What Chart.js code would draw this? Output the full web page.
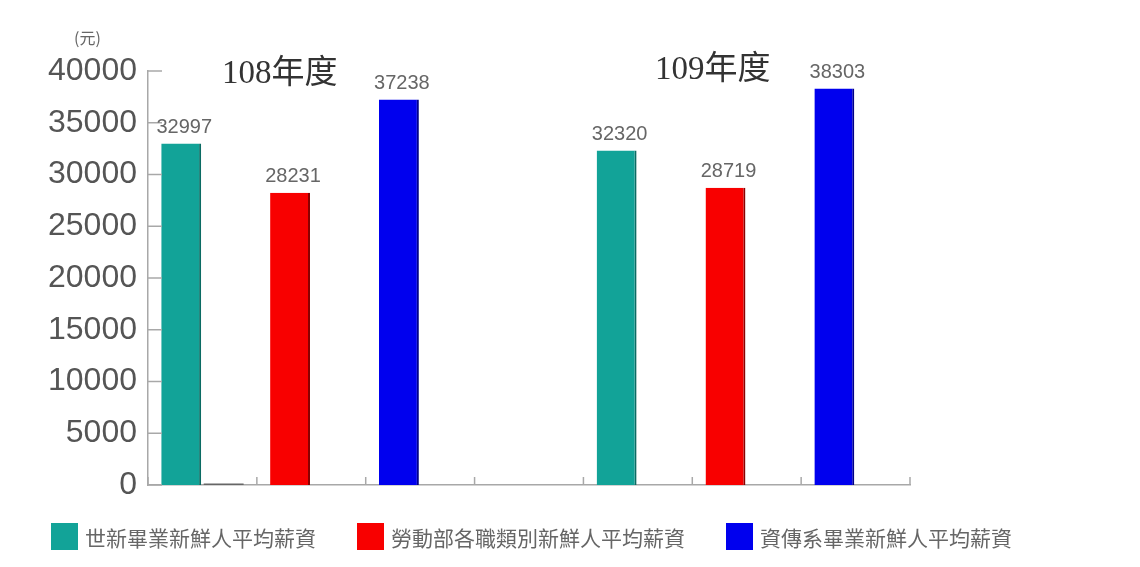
<!DOCTYPE html>
<html>
<head>
<meta charset="utf-8">
<script src="https://cdn.jsdelivr.net/npm/chart.js@4/dist/chart.umd.min.js"></script>
<style>
    body { margin: 0; background: #fff; }
    #wrap { position: relative; width: 1140px; height: 567px; }
    #legend {
        position: absolute; left: 51px; top: 523px;
        display: flex; gap: 41px;
        font-family: "Noto Sans CJK TC", sans-serif; font-size: 21px; color: #666;
    }
    .legend-item { display: flex; align-items: center; height: 27px; }
    .legend-box { width: 27px; height: 27px; margin-right: 7px; }
</style>
</head>
<body>
<div id="wrap">
    <canvas id="salaryChart" width="1140" height="567"></canvas>
    <div id="legend"></div>
</div>
<script>
const categories = ['108 世新', '108 勞動部', '108 資傳系', '', '109 世新', '109 勞動部', '109 資傳系'];
const shihHsinSalary = [32997, null, null, null, 32320, null, null];
const laborSalary = [null, 28231, null, null, null, 28719, null];
const commSalary = [null, null, 37238, null, null, null, 38303];
const baselineMark = [150, null, null, null, null, null, null];
const seriesNames = ['世新畢業新鮮人平均薪資', '勞動部各職類別新鮮人平均薪資', '資傳系畢業新鮮人平均薪資'];
const seriesColors = ['#12a398', '#f80000', '#0000ee'];
const seriesEdges = ['#0b6b63', '#8a0000', '#00008a'];
const yMin = 0;
const yMax = 40000;
const yStep = 5000;
const yearLabels = ['108年度', '109年度'];
const unitLabel = '(元)';

document.addEventListener('DOMContentLoaded', function() {
    const ctx = document.getElementById('salaryChart').getContext('2d');
    const axisColor = '#a8a8a8';
    const edge = { top: 0, right: 2, bottom: 0, left: 0 };

    // inward tick marks, value labels and the year captions
    const decorations = {
        id: 'decorations',
        afterDatasetsDraw(chart) {
            const c = chart.ctx;
            const x = chart.scales.x;
            const y = chart.scales.y;
            c.save();
            c.strokeStyle = axisColor;
            c.lineWidth = 1.5;
            y.ticks.forEach(t => {
                const py = y.getPixelForValue(t.value);
                c.beginPath();
                c.moveTo(x.left, py);
                c.lineTo(x.left + 14, py);
                c.stroke();
            });
            for (let i = 0; i <= categories.length; i++) {
                const px = x.getPixelForValue(i - 0.5);
                c.beginPath();
                c.moveTo(px, y.bottom);
                c.lineTo(px, y.bottom - 8);
                c.stroke();
            }

            c.fillStyle = '#666';
            c.font = '20px "Liberation Sans Narrow", "Liberation Sans", sans-serif';
            c.textAlign = 'center';
            c.textBaseline = 'bottom';
            chart.data.datasets.forEach((ds, di) => {
                if (!ds.showValue) return;
                chart.getDatasetMeta(di).data.forEach((bar, i) => {
                    if (ds.data[i] == null) return;
                    c.fillText(String(ds.data[i]), bar.x + 3, bar.y - 6);
                });
            });

            c.fillStyle = '#333';
            c.textAlign = 'left';
            c.textBaseline = 'alphabetic';
            c.font = '33px "Liberation Serif", "Noto Sans CJK TC", serif';
            c.fillText(yearLabels[0], 222, 83);
            c.fillText(yearLabels[1], 655, 79);

            c.fillStyle = '#666';
            c.font = '16px "Noto Sans CJK TC", sans-serif';
            c.fillText(unitLabel, 74, 44);
            c.restore();
        }
    };

    const chart = new Chart(ctx, {
        type: 'bar',
        data: {
            labels: categories,
            datasets: [
                { label: seriesNames[0], data: shihHsinSalary, backgroundColor: seriesColors[0], borderColor: seriesEdges[0], borderWidth: edge, stack: 'main', showValue: true, inLegend: true },
                { label: seriesNames[1], data: laborSalary, backgroundColor: seriesColors[1], borderColor: seriesEdges[1], borderWidth: edge, stack: 'main', showValue: true, inLegend: true },
                { label: seriesNames[2], data: commSalary, backgroundColor: seriesColors[2], borderColor: seriesEdges[2], borderWidth: edge, stack: 'main', showValue: true, inLegend: true },
                { label: '', data: baselineMark, backgroundColor: '#666', stack: 'extra' }
            ]
        },
        options: {
            responsive: false,
            animation: false,
            categoryPercentage: 0.78,
            barPercentage: 0.94,
            layout: {
                padding: { top: 71, right: 230, bottom: 82, left: 0 }
            },
            plugins: {
                legend: { display: false },
                tooltip: { enabled: false }
            },
            scales: {
                x: {
                    grid: { display: false },
                    border: { display: true, color: axisColor, width: 1.5 },
                    ticks: { display: false },
                    afterFit: scale => { scale.height = 0; }
                },
                y: {
                    stacked: true,
                    min: yMin,
                    max: yMax,
                    grid: { display: false },
                    border: { display: true, color: axisColor, width: 1.5 },
                    ticks: {
                        stepSize: yStep,
                        padding: 3,
                        color: '#555',
                        font: { family: '"Liberation Sans", sans-serif', size: 32 },
                        callback: v => String(v)
                    },
                    afterFit: scale => { scale.width = 148; }
                }
            }
        },
        plugins: [decorations]
    });

    const legend = document.getElementById('legend');
    chart.data.datasets.filter(ds => ds.inLegend).forEach(ds => {
        const item = document.createElement('div');
        item.className = 'legend-item';
        item.innerHTML = `<span class="legend-box" style="background:${ds.backgroundColor}"></span><span>${ds.label}</span>`;
        legend.appendChild(item);
    });
});
</script>
</body>
</html>
